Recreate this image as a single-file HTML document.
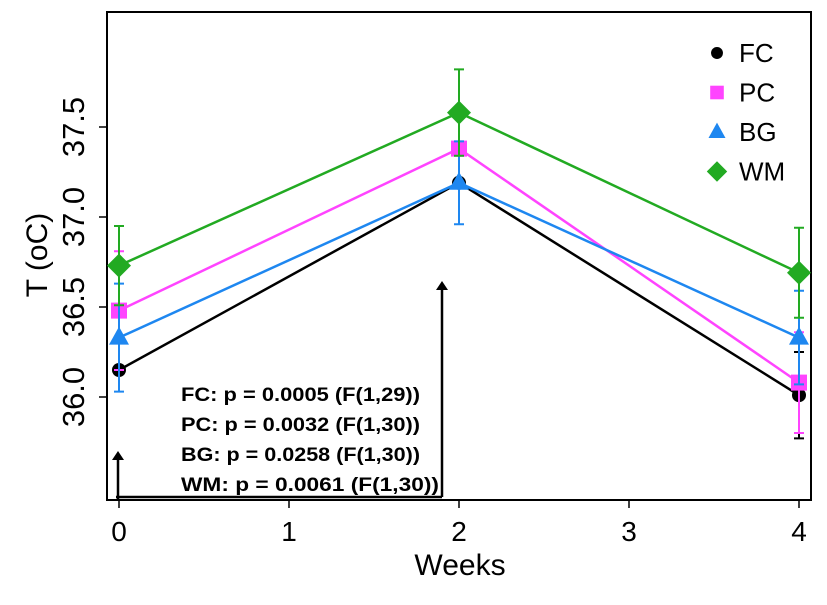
<!DOCTYPE html>
<html><head><meta charset="utf-8"><style>body{margin:0;background:#fff}svg{display:block;font-family:"Liberation Sans",Arial,sans-serif}</style></head>
<body>
<svg id="chart" width="827" height="605" viewBox="0 0 827 605"></svg>
<script>
const weeks=[0,2,4];
const seriesNames=["FC","PC","BG","WM"];
const colors=["#000000","#ff44ff","#1e87f0","#22aa22"];
const fcMean=[36.15,37.19,36.01];
const pcMean=[36.48,37.38,36.08];
const bgMean=[36.33,37.19,36.33];
const wmMean=[36.73,37.58,36.69];
const fcErr=[0.02,0.02,0.24];
const pcErr=[0.33,0.04,0.28];
const bgErr=[0.3,0.23,0.26];
const wmErr=[0.22,0.24,0.25];
const xTicks=[0,1,2,3,4];
const yTicks=[36.0,36.5,37.0,37.5];
const pvals=["FC: p = 0.0005 (F(1,29))","PC: p = 0.0032 (F(1,30))","BG: p = 0.0258 (F(1,30))","WM: p = 0.0061 (F(1,30))"];
const pvalWidths=[239,239,239,258];
const means=[fcMean,pcMean,bgMean,wmMean];
const errs=[fcErr,pcErr,bgErr,wmErr];
const X=v=>119+v*170;
const Y=v=>397-(v-36)*180;
const svg=document.getElementById('chart');
const NS='http://www.w3.org/2000/svg';
function mk(t,a,p){const e=document.createElementNS(NS,t);for(const k in a)e.setAttribute(k,a[k]);(p||svg).appendChild(e);return e;}
let e;
e=mk('rect',{x:107,y:12,width:704,height:488,fill:'none',stroke:'#000','stroke-width':2});

xTicks.forEach(t=>{
 e=mk('line',{x1:X(t),x2:X(t),y1:500,y2:508,stroke:'#000','stroke-width':1.5});
 
 e=mk('text',{x:X(t),y:541,'font-size':28,'text-anchor':'middle'});e.textContent=t;
 
});
yTicks.forEach(t=>{
 e=mk('line',{x1:99,x2:107,y1:Y(t),y2:Y(t),stroke:'#000','stroke-width':1.5});
 
 e=mk('text',{x:0,y:0,'font-size':31,'text-anchor':'middle',transform:`translate(84,${Y(t)}) rotate(-90)`});e.textContent=t.toFixed(1);
 
});
e=mk('text',{x:460,y:575,'font-size':30,'text-anchor':'middle'});e.textContent='Weeks';

e=mk('text',{x:0,y:0,'font-size':30,'text-anchor':'middle',transform:'translate(47,255) rotate(-90)'});e.textContent='T (oC)';

e=mk('path',{d:'M118,500 L118,455 M442,497 L442,285 M116,497 L442,497',stroke:'#000','stroke-width':2.5,fill:'none'});

e=mk('path',{d:'M112,460 L118,451 L124,460 Z M436,290 L442,281 L448,290 Z',fill:'#000'});

pvals.forEach((s,i)=>{e=mk('text',{x:181,y:401+i*30,'font-size':19,'font-weight':'bold',textLength:pvalWidths[i],lengthAdjust:'spacingAndGlyphs'});e.textContent=s;
 });
function marker(i,cx,cy,g,s){
 const c=colors[i];
 if(i===0)return mk('circle',{cx,cy,r:7*s,fill:c},g);
 if(i===1)return mk('rect',{x:cx-8*s,y:cy-8*s,width:16*s,height:16*s,fill:c},g);
 if(i===2)return mk('polygon',{points:`${cx},${cy-11*s} ${cx+10*s},${cy+7*s} ${cx-10*s},${cy+7*s}`,fill:c},g);
 return mk('polygon',{points:`${cx},${cy-12*s} ${cx+12*s},${cy} ${cx},${cy+12*s} ${cx-12*s},${cy}`,fill:c},g);
}
means.forEach((m,i)=>{
 const g=mk('g',{});
 e=mk('polyline',{points:weeks.map((w,j)=>X(w)+','+Y(m[j])).join(' '),fill:'none',stroke:colors[i],'stroke-width':2.5},g);
 
 weeks.forEach((w,j)=>{
  const x=X(w),y1=Y(m[j]+errs[i][j]),y2=Y(m[j]-errs[i][j]);
  e=mk('path',{d:`M${x},${y1}V${y2}M${x-5},${y1}H${x+5}M${x-5},${y2}H${x+5}`,stroke:colors[i],'stroke-width':2},g);
  
  e=marker(i,x,Y(m[j]),g,1);
  
 });
});
seriesNames.forEach((n,i)=>{
 const y=53+i*39.5;
 e=marker(i,717,y,svg,0.85);
 
 e=mk('text',{x:739,y:y+9,'font-size':26});e.textContent=n;
 
});
</script>
</body></html>
